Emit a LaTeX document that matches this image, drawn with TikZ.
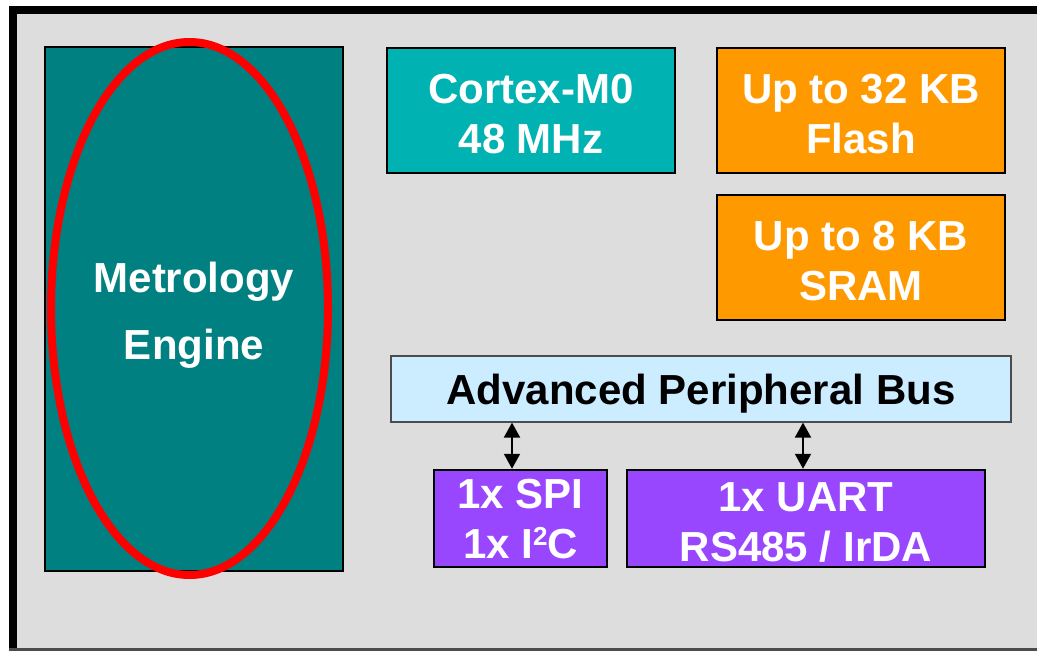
\documentclass[tikz,border=0pt]{standalone}
\usepackage{fontspec}
\setmainfont{Liberation Sans}
\usetikzlibrary{arrows.meta}
\definecolor{bggray}{HTML}{DDDDDD}
\definecolor{tealbox}{HTML}{008080}
\definecolor{cyanbox}{HTML}{00B2B2}
\definecolor{orangebox}{HTML}{FF9900}
\definecolor{bluebox}{HTML}{CCECFF}
\definecolor{purplebox}{HTML}{9947FF}
\newcommand{\supr}[1]{\raisebox{13pt}{\fontsize{26}{26}\selectfont #1}}
\begin{document}
\begin{tikzpicture}[x=1pt,y=-1pt,
  blk/.style={draw=black, line width=2pt, inner sep=0pt},
  txt/.style={inner sep=0pt, align=center, text=white, yshift=-4pt,
    font=\fontsize{42}{50}\selectfont\bfseries},
  arr/.style={arrows={Triangle[width=16pt,length=15pt]-Triangle[width=16pt,length=15pt]}, line width=2pt, black}]
\useasboundingbox (0,0) rectangle (1037,651);
% frame
\fill[bggray] (9,6) rectangle (1037,651);
\fill[black] (9,6) rectangle (1037,14);
\fill[black] (9,6) rectangle (17,651);
\fill[black!70] (9,648) rectangle (1037,651);
% boxes
\node[blk, fill=tealbox, minimum width=298pt, minimum height=524pt,
  label={[txt, yshift=-2pt, font=\fontsize{42}{67}\selectfont\bfseries]center:Metrology\\Engine}] (met) at (194,309) {};
\node[blk, fill=cyanbox, minimum width=288pt, minimum height=125pt,
  label={[txt]center:Cortex-M0\\48 MHz}] (cpu) at (531,110.5) {};
\node[blk, fill=orangebox, minimum width=288pt, minimum height=125pt,
  label={[txt]center:Up to 32 KB\\Flash}] (flash) at (861,110.5) {};
\node[blk, fill=orangebox, minimum width=288pt, minimum height=125pt,
  label={[txt]center:Up to 8 KB\\SRAM}] (sram) at (861,257.5) {};
\node[blk, draw=black!70, line width=1.2pt, fill=bluebox, minimum width=620pt, minimum height=66pt,
  label={[txt, text=black, yshift=-1pt]center:Advanced Peripheral Bus}] (apb) at (701,389) {};
\node[blk, line width=2.5pt, fill=purplebox, minimum width=173pt, minimum height=97pt,
  label={[txt, yshift=3pt]center:1x SPI\\1x I\supr{2}C}] (spi) at (520.5,518.5) {};
\node[blk, line width=2.5pt, fill=purplebox, minimum width=358pt, minimum height=97pt,
  label={[txt]center:1x UART\\RS485 / IrDA}] (uart) at (806,518.5) {};
% arrows
\draw[arr] ([xshift=-8.5pt]spi.north |- apb.south) -- ([xshift=-8.5pt]spi.north);
\draw[arr] ([xshift=-3pt]uart.north |- apb.south) -- ([xshift=-3pt]uart.north);
% red ellipse
\draw[red, line width=8pt] (189.5,308.5) ellipse [x radius=138.5pt, y radius=266.5pt];
\end{tikzpicture}
\end{document}
